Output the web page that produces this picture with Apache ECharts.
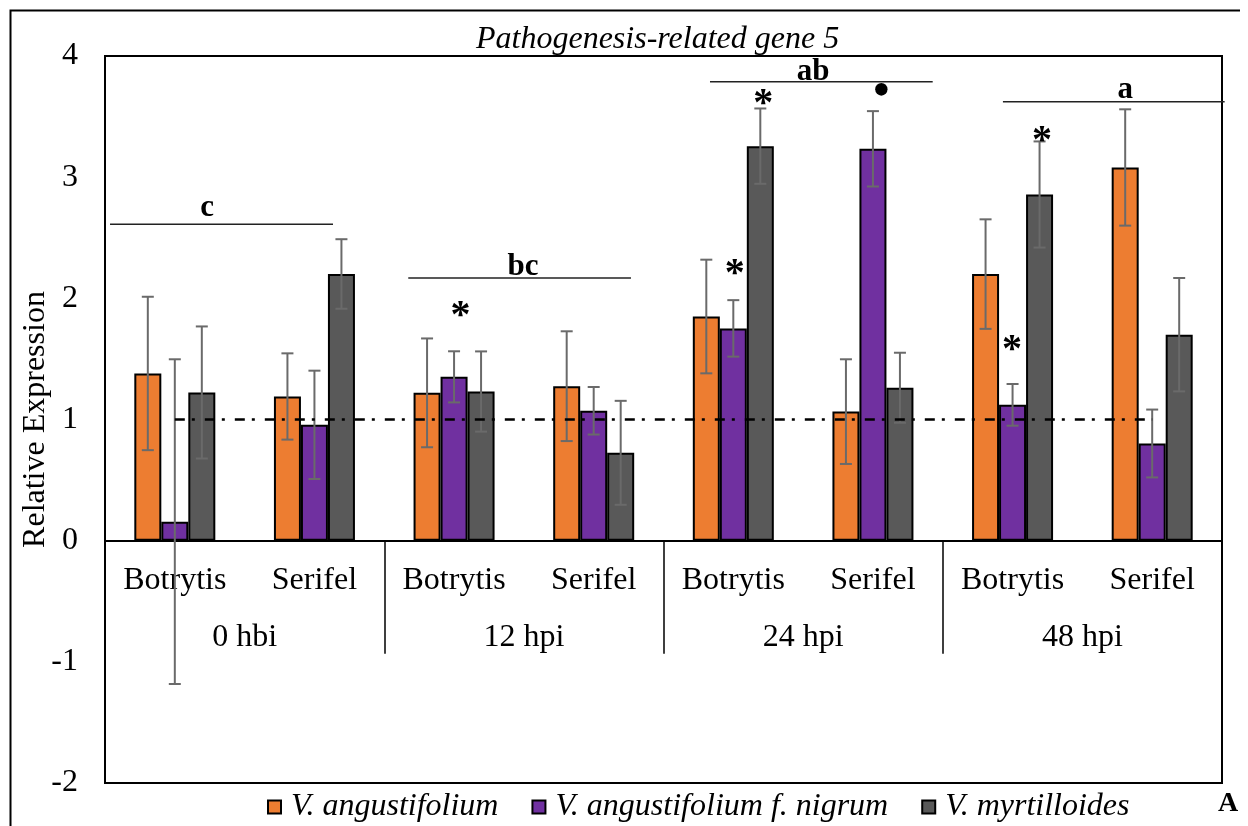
<!DOCTYPE html>
<html>
<head>
<meta charset="utf-8">
<script src="https://cdn.jsdelivr.net/npm/echarts@6/dist/echarts.min.js"></script>
<style>
  html, body { margin: 0; padding: 0; background: #fff; }
  #chart { width: 1248px; height: 826px; }
</style>
</head>
<body>
<div id="chart"></div>
<script>
// Treatments (x axis) and sampling times (group labels under the axis)
const categories = ['Botrytis', 'Serifel', 'Botrytis', 'Serifel', 'Botrytis', 'Serifel', 'Botrytis', 'Serifel'];
const timeGroups = ['0 hbi', '12 hpi', '24 hpi', '48 hpi'];

// Relative expression (mean) and error per species
const angustifolium      = [1.380, 1.190, 1.220, 1.275, 1.850, 1.065, 2.200, 3.080];
const angustifoliumErr   = [0.633, 0.356, 0.449, 0.453, 0.469, 0.432, 0.452, 0.480];
const nigrum             = [0.157, 0.956, 1.352, 1.072, 1.752, 3.234, 1.121, 0.802];
const nigrumErr          = [1.340, 0.447, 0.211, 0.196, 0.233, 0.311, 0.172, 0.280];
const myrtilloides       = [1.223, 2.201, 1.231, 0.725, 3.256, 1.262, 2.857, 1.700];
const myrtilloidesErr    = [0.545, 0.287, 0.331, 0.429, 0.311, 0.289, 0.438, 0.468];

// Reference level (relative expression = 1)
const referenceLevel = [1, 1, 1, 1, 1, 1, 1, 1];

// Significance letters per time point: bar span (in category units) and height
const letters          = ['c', 'bc', 'ab', 'a'];
const letterLineStart  = [0.036, 2.172, 4.333, 6.431];
const letterLineEnd    = [1.633, 3.767, 5.928, 8.019];
const letterLineValue  = [2.612, 2.168, 3.788, 3.622];
const letterX          = [0.731, 2.994, 5.071, 7.307];
const letterBaseline   = [2.655, 2.172, 3.780, 3.630];

// Significance marks above single bars (text baseline height)
const markText     = ['*', '*', '*', '\u2022', '*', '*'];
const markX        = [2.547, 4.714, 4.510, 5.560, 6.711, 6.496];
const markBaseline = [1.738, 3.483, 2.079, 3.550, 3.180, 1.453];

const FONT = 'Liberation Serif, Times New Roman, serif';
const BAR_W = 27;
const colors = ['#ED7D31', '#7030A0', '#595959'];
const markFont = { '*': 'bold 40px ', '\u2022': '52px ' };
const markSize = { '*': 40, '\u2022': 52 };

// Position along the category axis measured in category widths from the left edge
function catPoint(api, u, v) {
  const p0 = api.coord([0, v]);
  const w = api.size([1, 0])[0];
  return [p0[0] + (u - 0.5) * w, p0[1]];
}

function errorSeries(means, errs, slot) {
  return {
    type: 'custom',
    z: 4,
    silent: true,
    data: means.map((m, i) => [i, m, errs[i]]),
    encode: { x: 0, y: 1 },
    renderItem(params, api) {
      const i = api.value(0), m = api.value(1), e = api.value(2);
      const top = api.coord([i, m + e]);
      const bot = api.coord([i, m - e]);
      const x = top[0] + (slot - 1) * BAR_W;
      const style = { stroke: '#6a6a6a', lineWidth: 2 };
      const cap = 6;
      return {
        type: 'group',
        children: [
          { type: 'line', shape: { x1: x, y1: top[1], x2: x, y2: bot[1] }, style },
          { type: 'line', shape: { x1: x - cap, y1: top[1], x2: x + cap, y2: top[1] }, style },
          { type: 'line', shape: { x1: x - cap, y1: bot[1], x2: x + cap, y2: bot[1] }, style }
        ]
      };
    }
  };
}

function barSeries(name, values, color) {
  return {
    name, type: 'bar', data: values, barWidth: BAR_W, barGap: '0%',
    itemStyle: { color, borderColor: '#000', borderWidth: 2 },
    z: 2
  };
}

const chart = echarts.init(document.getElementById('chart'), null, { renderer: 'canvas' });

chart.setOption({
  animation: false,
  backgroundColor: '#fff',
  title: {
    text: 'Pathogenesis-related gene 5',
    left: 471, top: 19,
    textStyle: { fontFamily: FONT, fontStyle: 'italic', fontWeight: 'normal', fontSize: 32, color: '#000' }
  },
  grid: {
    left: 105, top: 56, right: 26, bottom: 43,
    show: true, borderColor: '#000', borderWidth: 2,
    outerBoundsMode: 'none', containLabel: false
  },
  legend: {
    data: ['V. angustifolium', 'V. angustifolium f. nigrum', 'V. myrtilloides'],
    left: 262, top: 786,
    itemWidth: 13, itemHeight: 13, itemGap: 33,
    icon: 'rect',
    textStyle: { fontFamily: FONT, fontStyle: 'italic', fontSize: 32, color: '#000', padding: [0, 0, 0, 5] }
  },
  xAxis: [
    {
      type: 'category', data: categories,
      axisLine: { onZero: true, lineStyle: { color: '#000', width: 2 } },
      axisTick: { show: false },
      // labels sit under the zero line, 243px above the grid's bottom edge
      axisLabel: { margin: -218, fontFamily: FONT, fontSize: 32, color: '#000', interval: 0 },
      splitLine: { show: false }
    },
    {
      type: 'category', data: timeGroups, position: 'bottom',
      axisLine: { show: false, onZero: true, onZeroAxisIndex: 0 },
      axisTick: { show: true, length: 113, lineStyle: { color: '#000', width: 1.5 } },
      axisLabel: { margin: -161, fontFamily: FONT, fontSize: 32, color: '#000', interval: 0 },
      splitLine: { show: false }
    }
  ],
  yAxis: {
    type: 'value', min: -2, max: 4, interval: 1,
    name: 'Relative Expression', nameLocation: 'middle', nameGap: 53, nameRotate: 90,
    nameMoveOverlap: false,
    nameTextStyle: { fontFamily: FONT, fontSize: 32, color: '#000' },
    axisLine: { show: false }, axisTick: { show: false }, splitLine: { show: false },
    axisLabel: { margin: 27, fontFamily: FONT, fontSize: 32, color: '#000' }
  },
  series: [
    barSeries('V. angustifolium', angustifolium, colors[0]),
    barSeries('V. angustifolium f. nigrum', nigrum, colors[1]),
    barSeries('V. myrtilloides', myrtilloides, colors[2]),
    errorSeries(angustifolium, angustifoliumErr, 0),
    errorSeries(nigrum, nigrumErr, 1),
    errorSeries(myrtilloides, myrtilloidesErr, 2),
    {
      name: 'reference', type: 'line', data: referenceLevel, symbol: 'none', z: 5, silent: true,
      lineStyle: { color: '#000', width: 2.5, type: [10, 7, 3, 10] }
    },
    {
      type: 'custom', z: 6, silent: true, clip: false,
      data: letters.map((_, i) => [0, letterLineValue[i]]),
      renderItem(params, api) {
        const i = params.dataIndex;
        const a = catPoint(api, letterLineStart[i], letterLineValue[i]);
        const b = catPoint(api, letterLineEnd[i], letterLineValue[i]);
        const t = catPoint(api, letterX[i], letterBaseline[i]);
        return {
          type: 'group',
          children: [
            { type: 'line', shape: { x1: a[0], y1: a[1], x2: b[0], y2: b[1] }, style: { stroke: '#222', lineWidth: 1.5 } },
            { type: 'text', x: t[0], y: t[1] - 0.34 * 31,
              style: { text: letters[i], font: 'bold 31px ' + FONT, fill: '#000', align: 'center', verticalAlign: 'middle' } }
          ]
        };
      }
    },
    {
      type: 'custom', z: 6, silent: true, clip: false,
      data: markText.map((_, i) => [0, markBaseline[i]]),
      renderItem(params, api) {
        const i = params.dataIndex;
        const t = catPoint(api, markX[i], markBaseline[i]);
        const s = markText[i];
        return {
          type: 'text', x: t[0], y: t[1] - 0.34 * markSize[s],
          style: { text: s, font: markFont[s] + FONT, fill: '#000', align: 'center', verticalAlign: 'middle' }
        };
      }
    }
  ],
  graphic: [
    {
      type: 'polyline', silent: true,
      shape: { points: [[10.5, 826], [10.5, 10.5], [1240, 10.5]] },
      style: { stroke: '#000', lineWidth: 2, fill: null }
    },
    {
      type: 'text', left: 1218, top: 790, silent: true,
      style: { text: 'A', font: 'bold 28px ' + FONT, fill: '#000' }
    }
  ]
});
</script>
</body>
</html>
